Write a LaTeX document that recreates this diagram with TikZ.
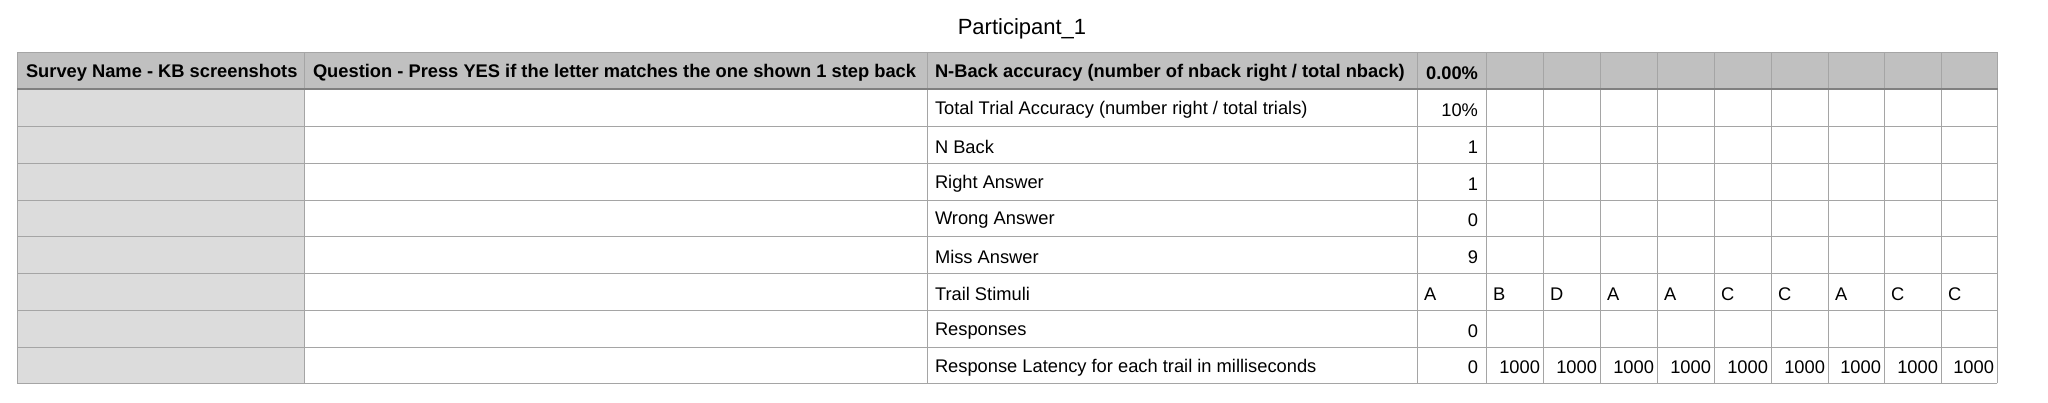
\documentclass[tikz,border=0pt]{standalone}
\usepackage{fontspec}
\setmainfont{Liberation Sans}
\begin{document}
\begin{tikzpicture}[x=1pt,y=-1pt,line cap=rect]
\definecolor{custcol_hd}{RGB}{192, 192, 192}
\definecolor{custcol_c1}{RGB}{220, 220, 220}
\definecolor{custcol_ln}{RGB}{165, 165, 165}
\tikzset{cell/.style={inner sep=0, outer sep=0, font=\fontsize{18.3pt}{18.3pt}\selectfont},
  head/.style={cell, font=\fontsize{18.3pt}{18.3pt}\bfseries\selectfont}}
\useasboundingbox (0,0) rectangle (2048,402);
% fills
\fill [custcol_hd] (17.6,52) rectangle (1997,89);
\fill [custcol_c1] (17.6,89) rectangle (304.6,383);
% grid
\foreach \y in {126,163,200,236,273,310,347,383}
  \draw [line width=0.8pt, custcol_ln] (17.6,\y) -- (1997,\y);
\foreach \x in {17.6,304.6,927,1417,1486,1543,1600,1657,1714,1771,1828,1884,1941,1997}
  \draw [line width=0.8pt, custcol_ln] (\x,52) -- (\x,383);
\draw [line width=0.8pt, custcol_ln] (17.6,52) -- (1997,52);
\draw [line width=2.0pt, gray] (17.6,89) -- (1997,89);
% title
\node [cell, font=\fontsize{22pt}{22pt}\selectfont] (title) at (1022,29) {Participant\_1};
% header
\node [head, anchor=west] (hsurvey) at (26,73) {Survey Name - KB screenshots};
\node [head, anchor=west] (hquest) at (313,73) {Question - Press YES if the letter matches the one shown 1 step back};
\node [head, anchor=west] (hnback) at (935,73) {N-Back accuracy (number of nback right / total nback)};
\node [head, anchor=east] (hpct) at (1478,73) {0.00\%};
% rows
\node [cell, anchor=west] (lbltotal) at (935,110) {Total Trial Accuracy (number right / total trials)};
\node [cell, anchor=west] (lblnback) at (935,147) {N Back};
\node [cell, anchor=west] (lblright) at (935,184) {Right Answer};
\node [cell, anchor=west] (lblwrong) at (935,220.5) {Wrong Answer};
\node [cell, anchor=west] (lblmiss) at (935,257) {Miss Answer};
\node [cell, anchor=west] (lblstim) at (935,294) {Trail Stimuli};
\node [cell, anchor=west] (lblresp) at (935,331) {Responses};
\node [cell, anchor=west] (lbllat) at (935,367.5) {Response Latency for each trail in milliseconds};
\foreach \v/\y [count=\i] in {10\%/110, 1/147, 1/184, 0/220.5, 9/257, 0/331, 0/367.5}
  \node [cell, anchor=east] (val\i) at (1478,\y) {\v};
% stimuli
\foreach \s/\x [count=\j] in {A/1424,B/1493,D/1550,A/1607,A/1664,C/1721,C/1778,A/1835,C/1891,C/1948}
  \node [cell, anchor=west] (stim\j) at (\x,294) {\s};
% latency
\foreach \x [count=\j] in {1540,1597,1654,1711,1768,1825,1881,1938,1994}
  \node [cell, anchor=east] (lat\j) at (\x,367.5) {1000};
\end{tikzpicture}
\end{document}
